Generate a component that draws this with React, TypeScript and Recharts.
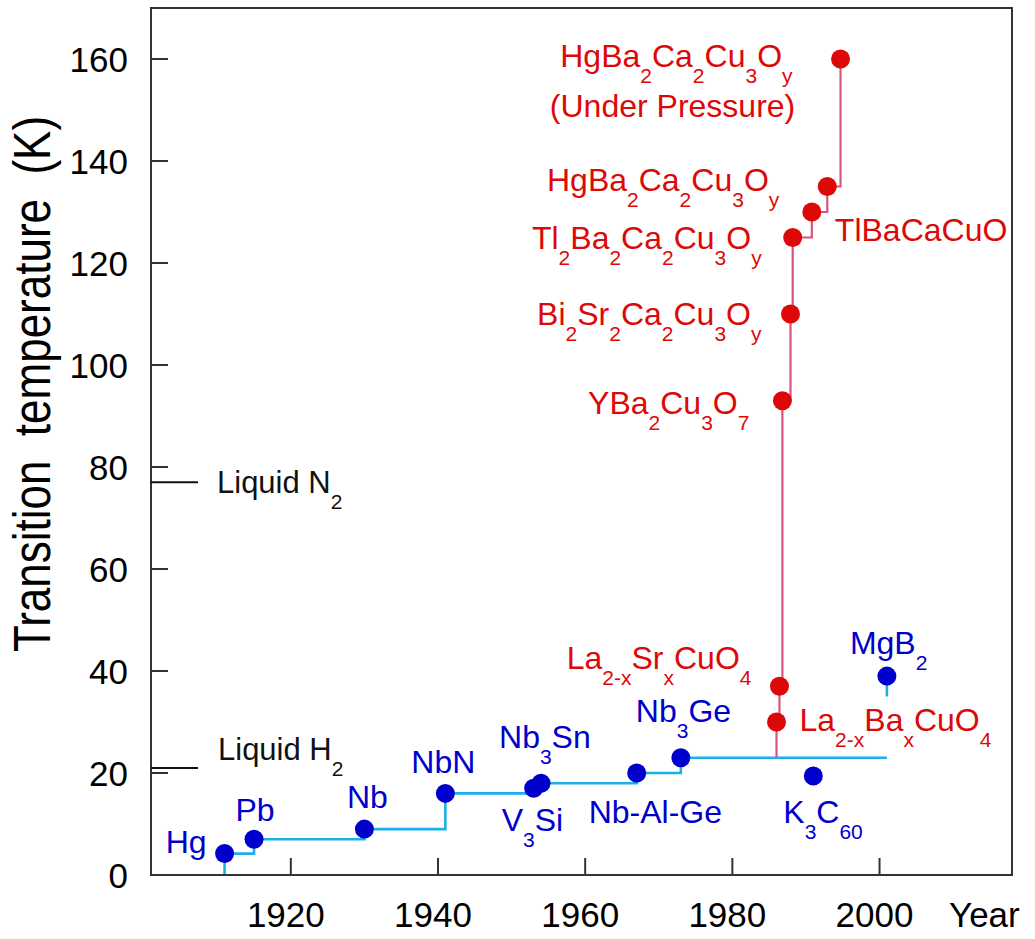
import React from 'react';
import { ComposedChart, Line, Scatter, XAxis, YAxis, ReferenceArea } from 'recharts';

const FONT = '"Liberation Sans", Arial, Helvetica, sans-serif';
const BLUE = '#0000cc';
const RED = '#dd0808';
const BLUE_LINE = '#1cb0ea';
const RED_LINE = '#d9557f';
const AXIS = '#333333';

// conventional superconductors
const classicNames = ['Hg', 'Pb', 'Nb', 'NbN', 'V_{3}Si', 'Nb_{3}Sn', 'Nb-Al-Ge', 'Nb_{3}Ge', 'K_{3}C_{60}', 'MgB_{2}'];
const classicYears = [1911, 1915, 1930, 1941, 1953, 1954, 1967, 1973, 1991, 2001];
const classicTc = [4.2, 7, 9, 16, 17, 18, 20, 23, 19.4, 39];

// cuprates
const cuprateNames = [
  'La_{2-x}Ba_{x}CuO_{4}',
  'La_{2-x}Sr_{x}CuO_{4}',
  'YBa_{2}Cu_{3}O_{7}',
  'Bi_{2}Sr_{2}Ca_{2}Cu_{3}O_{y}',
  'Tl_{2}Ba_{2}Ca_{2}Cu_{3}O_{y}',
  'TlBaCaCuO',
  'HgBa_{2}Ca_{2}Cu_{3}O_{y}',
  'HgBa_{2}Ca_{2}Cu_{3}O_{y}',
];
const cuprateNotes = ['', '', '', '', '', '', '', '(Under Pressure)'];
const cuprateYears = [1986, 1986.4, 1986.8, 1987.9, 1988.2, 1990.8, 1992.9, 1994.7];
const cuprateTc = [30, 37, 93, 110, 125, 130, 135, 160];

// record staircases
const classicRecordYears = [1911, 1911, 1915, 1930, 1941, 1953, 1954, 1967, 1973, 2001];
const classicRecordTc = [0, 4.2, 7, 9, 16, 17, 18, 20, 23, 23];
const cuprateRecordYears = [1986, 1986, 1986.4, 1986.8, 1987.9, 1988.2, 1990.8, 1992.9, 1994.7];
const cuprateRecordTc = [23, 30, 37, 93, 110, 125, 130, 135, 160];
const mgb2StubYears = [2001, 2001];
const mgb2StubTc = [35, 39];

const coolantNames = ['Liquid N_{2}', 'Liquid H_{2}'];
const coolantTc = [77, 21];

const yearTicks = [1920, 1940, 1960, 1980, 2000];
const tcTicks = [0, 20, 40, 60, 80, 100, 120, 140, 160];

// label layout (pixel offsets from the dot)
type Place = { dx: number; dy: number; anchor: 'start' | 'middle' | 'end' };
const classicPlace: Place[] = [
  { dx: -18, dy: -1, anchor: 'end' },
  { dx: 1, dy: -18, anchor: 'middle' },
  { dx: 3, dy: -21, anchor: 'middle' },
  { dx: -2, dy: -20, anchor: 'middle' },
  { dx: -32, dy: 43, anchor: 'start' },
  { dx: -42, dy: -35, anchor: 'start' },
  { dx: -48, dy: 50, anchor: 'start' },
  { dx: -45, dy: -36, anchor: 'start' },
  { dx: -30, dy: 47, anchor: 'start' },
  { dx: -37, dy: -22, anchor: 'start' },
];
const cupratePlace: Place[] = [
  { dx: 23, dy: 9, anchor: 'start' },
  { dx: -28, dy: -17, anchor: 'end' },
  { dx: -33, dy: 13, anchor: 'end' },
  { dx: -29, dy: 11, anchor: 'end' },
  { dx: -31, dy: 11, anchor: 'end' },
  { dx: 23, dy: 29, anchor: 'start' },
  { dx: -48, dy: 4, anchor: 'end' },
  { dx: -48, dy: 8, anchor: 'end' },
];
const notePlace = { dx: -168, dy: 58 };
const coolantPlace = [{ dx: 66, dy: 11 }, { dx: 67, dy: -8 }];

const LABEL_SIZE = 32;
const SUB_SIZE = 21;
const SUB_DROP = 16;
const TICK_SIZE = 35;
const Y_MARGIN = 23;
const X_MARGIN = 10;

const classicData = classicNames.map((name, i) => ({ name, i, year: classicYears[i], tc: classicTc[i] }));
const cuprateData = cuprateNames.map((name, i) => ({ name, i, year: cuprateYears[i], tc: cuprateTc[i] }));
const classicRecord = classicRecordYears.map((year, i) => ({ year, tc: classicRecordTc[i] }));
const cuprateRecord = cuprateRecordYears.map((year, i) => ({ year, tc: cuprateRecordTc[i] }));
const mgb2Stub = mgb2StubYears.map((year, i) => ({ year, tc: mgb2StubTc[i] }));

const splitFormula = (s: string) => {
  const out: { t: string; sub: boolean }[] = [];
  const re = /_\{([^}]*)\}/g;
  let last = 0;
  let m: RegExpExecArray | null;
  while ((m = re.exec(s))) {
    if (m.index > last) out.push({ t: s.slice(last, m.index), sub: false });
    out.push({ t: m[1], sub: true });
    last = re.lastIndex;
  }
  if (last < s.length) out.push({ t: s.slice(last), sub: false });
  return out;
};

const Formula = ({ x, y, text, anchor, color, size = LABEL_SIZE }: any) => {
  let shift = 0;
  return (
    <text x={x} y={y} textAnchor={anchor} fill={color} fontSize={size} fontFamily={FONT} style={{ whiteSpace: 'pre' }}>
      {splitFormula(text).map((s, k) => {
        const target = s.sub ? SUB_DROP : 0;
        const dy = target - shift;
        shift = target;
        return (
          <tspan key={k} dy={dy} fontSize={s.sub ? SUB_SIZE : size}>
            {s.t}
          </tspan>
        );
      })}
    </text>
  );
};

const makeShape = (color: string, places: Place[], notes?: string[]) => (props: any) => {
  const { cx, cy, payload } = props;
  const p = places[payload.i];
  const note = notes ? notes[payload.i] : '';
  return (
    <g>
      <circle cx={cx} cy={cy} r={9.5} fill={color} />
      <Formula x={cx + p.dx} y={cy + p.dy} text={payload.name} anchor={p.anchor} color={color} />
      {note ? (
        <text x={cx + notePlace.dx} y={cy + notePlace.dy} textAnchor="middle" fill={color} fontSize={LABEL_SIZE} fontFamily={FONT}>
          {note}
        </text>
      ) : null}
    </g>
  );
};

const YTick = (props: any) => {
  const { x, y, payload } = props;
  const ax = x + Y_MARGIN;
  const c = coolantTc.indexOf(payload.value);
  if (c >= 0) {
    return (
      <g>
        <line x1={ax} x2={ax + 47} y1={y} y2={y} stroke="#111" strokeWidth={2} />
        <Formula x={ax + coolantPlace[c].dx} y={y + coolantPlace[c].dy} text={coolantNames[c]} anchor="start" color="#111" size={31} />
      </g>
    );
  }
  return (
    <g>
      <line x1={ax} x2={ax + 17} y1={y} y2={y} stroke={AXIS} strokeWidth={2} />
      <text x={x} y={y} dy="0.36em" textAnchor="end" fontSize={TICK_SIZE} fontFamily={FONT} fill="#000">
        {payload.value}
      </text>
    </g>
  );
};

const XTick = (props: any) => {
  const { x, y, payload } = props;
  const ay = y - X_MARGIN;
  return (
    <g>
      <line x1={x} x2={x} y1={ay} y2={ay - 17} stroke={AXIS} strokeWidth={2} />
      <text x={x - 5} y={ay + 52} textAnchor="middle" fontSize={TICK_SIZE} fontFamily={FONT} fill="#000">
        {payload.value}
      </text>
    </g>
  );
};

const YearTitle = () => (
  <text x={949} y={927} fontSize={TICK_SIZE} fontFamily={FONT} fill="#000">
    Year
  </text>
);

const TcTitle = () => (
  <text
    transform="translate(50 384) rotate(-90) scale(1 1.18)"
    textAnchor="middle"
    fontSize={44}
    fontFamily={FONT}
    fill="#000"
    style={{ whiteSpace: 'pre' }}
  >
    {'Transition  temperature  (K)'}
  </text>
);

export default function App() {
  return (
    <div style={{ position: 'absolute', left: 0, top: 0, background: '#fff' }}>
      <ComposedChart width={1035} height={939} margin={{ top: 8, right: 23, bottom: 0, left: 0 }}>
        <XAxis
          dataKey="year"
          type="number"
          domain={[1901, 2018]}
          ticks={yearTicks}
          interval={0}
          allowDataOverflow
          height={64}
          tickSize={0}
          tickMargin={X_MARGIN}
          tickLine={false}
          tick={<XTick />}
          axisLine={{ stroke: AXIS, strokeWidth: 2 }}
          label={<YearTitle />}
        />
        <YAxis
          type="number"
          domain={[0, 170]}
          ticks={[...tcTicks, ...coolantTc]}
          interval={0}
          allowDataOverflow
          width={151}
          tickSize={0}
          tickMargin={Y_MARGIN}
          tickLine={false}
          tick={<YTick />}
          axisLine={{ stroke: AXIS, strokeWidth: 2 }}
          label={<TcTitle />}
        />
        <ReferenceArea x1={1901} x2={2018} y1={0} y2={170} fill="none" stroke={AXIS} strokeWidth={2} fillOpacity={0} />
        <Line data={classicRecord} dataKey="tc" type="stepAfter" stroke={BLUE_LINE} strokeWidth={2.6} dot={false} isAnimationActive={false} />
        <Line data={mgb2Stub} dataKey="tc" type="linear" stroke={BLUE_LINE} strokeWidth={2.6} dot={false} isAnimationActive={false} />
        <Line data={cuprateRecord} dataKey="tc" type="stepAfter" stroke={RED_LINE} strokeWidth={2.2} dot={false} isAnimationActive={false} />
        <Scatter data={classicData} dataKey="tc" shape={makeShape(BLUE, classicPlace)} isAnimationActive={false} />
        <Scatter data={cuprateData} dataKey="tc" shape={makeShape(RED, cupratePlace, cuprateNotes)} isAnimationActive={false} />
      </ComposedChart>
    </div>
  );
}
